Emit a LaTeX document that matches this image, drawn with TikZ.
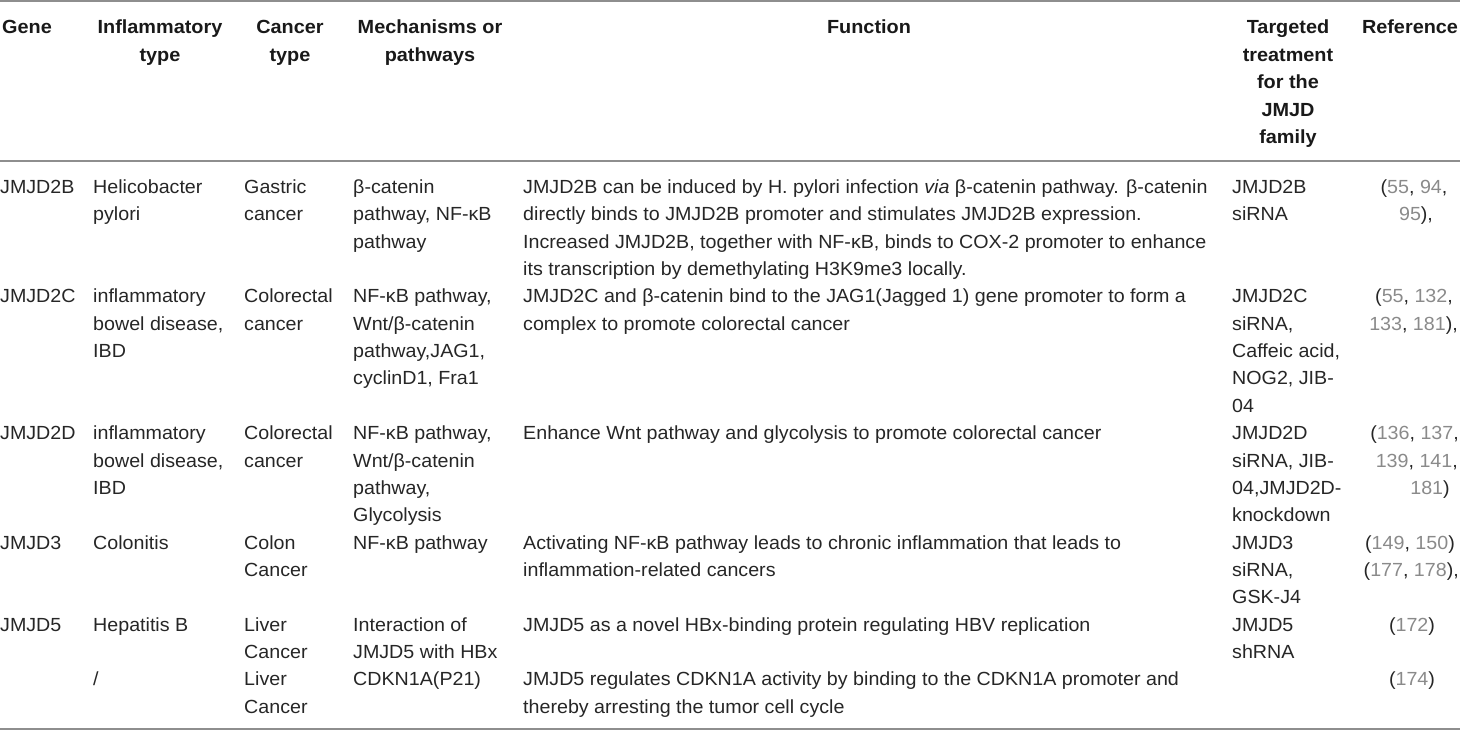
\documentclass[tikz,border=0pt]{standalone}
\usepackage{fontspec}
\setmainfont{Liberation Sans}
\newfontfamily\bodyfont{Liberation Sans}[FakeStretch=1.035]
\newfontfamily\headfont{Liberation Sans}[FakeStretch=1.045]
\usepackage{xcolor}
\definecolor{rulec}{HTML}{8E8E8E}
\definecolor{bodyc}{HTML}{262626}
\definecolor{refc}{HTML}{8A8A8A}
\newcommand\R[1]{\textcolor{refc}{#1}}
\def\basey{193.5}
\def\pitch{27.35}
\def\hbase{34}
\tikzset{
  body/.style={font=\bodyfont\fontsize{19}{22}\selectfont, inner sep=0pt, text=bodyc},
  head/.style={font=\headfont\fontsize{19}{22}\selectfont\bfseries, inner sep=0pt, text=black!90},
  rulel/.style={draw=rulec, line width=2pt},
}
\newcommand\Lcell[4]{%
  \foreach \ln [count=\ii from 0] in {#4}{
    \node[body, anchor=base west] (#1-\ii) at (#2,{\basey+(#3+\ii)*\pitch}) {\ln};
  }}
\newcommand\Hcell[4]{%
  \foreach \ln [count=\ii from 0] in {#4}{
    \node[head, anchor=#3] (#1-\ii) at (#2,{\hbase+\ii*\pitch}) {\ln};
  }}
\begin{document}
\begin{tikzpicture}[x=1pt,y=-1pt]
\useasboundingbox (0,0) rectangle (1460,733);
% rules
\coordinate (t0) at (0,1); \coordinate (t1) at (1460,1);
\coordinate (m0) at (0,161); \coordinate (m1) at (1460,161);
\coordinate (b0) at (0,729); \coordinate (b1) at (1460,729);
\draw[rulel] (t0) -- (t1);
\draw[rulel] (m0) -- (m1);
\draw[rulel] (b0) -- (b1);
% header
\Hcell{hgene}{2}{base west}{Gene}
\Hcell{hinf}{160}{base}{Inflammatory,type}
\Hcell{hcan}{290}{base}{Cancer,type}
\Hcell{hmec}{430}{base}{Mechanisms or,pathways}
\Hcell{hfun}{869}{base}{Function}
\Hcell{htar}{1288}{base}{Targeted,treatment,for the,JMJD,family}
\Hcell{href}{1410}{base}{Reference}
% gene
\Lcell{g1}{0}{0}{JMJD2B}
\Lcell{g2}{0}{4}{JMJD2C}
\Lcell{g3}{0}{9}{JMJD2D}
\Lcell{g4}{0}{13}{JMJD3}
\Lcell{g5}{0}{16}{JMJD5}
% inflammatory type
\Lcell{i1}{93}{0}{Helicobacter,pylori}
\Lcell{i2}{93}{4}{inflammatory,{bowel disease,},IBD}
\Lcell{i3}{93}{9}{inflammatory,{bowel disease,},IBD}
\Lcell{i4}{93}{13}{Colonitis}
\Lcell{i5}{93}{16}{Hepatitis B}
\Lcell{i6}{93}{18}{/}
% cancer type
\Lcell{c1}{244}{0}{Gastric,cancer}
\Lcell{c2}{244}{4}{Colorectal,cancer}
\Lcell{c3}{244}{9}{Colorectal,cancer}
\Lcell{c4}{244}{13}{Colon,Cancer}
\Lcell{c5}{244}{16}{Liver,Cancer}
\Lcell{c6}{244}{18}{Liver,Cancer}
% mechanisms
\Lcell{p1}{353}{0}{β-catenin,{pathway, NF-κB},pathway}
\Lcell{p2}{353}{4}{{NF-κB pathway,},Wnt/β-catenin,{pathway,JAG1,},{cyclinD1, Fra1}}
\Lcell{p3}{353}{9}{{NF-κB pathway,},Wnt/β-catenin,{pathway,},Glycolysis}
\Lcell{p4}{353}{13}{NF-κB pathway}
\Lcell{p5}{353}{16}{Interaction of,JMJD5 with HBx}
\Lcell{p6}{353}{18}{CDKN1A(P21)}
% function
\Lcell{f1}{523}{0}{{JMJD2B can be induced by H. pylori infection \textit{via} β-catenin pathway. β-catenin},{directly binds to JMJD2B promoter and stimulates JMJD2B expression.},{Increased JMJD2B, together with NF-κB, binds to COX-2 promoter to enhance},{its transcription by demethylating H3K9me3 locally.}}
\Lcell{f2}{523}{4}{{JMJD2C and β-catenin bind to the JAG1(Jagged 1) gene promoter to form a},{complex to promote colorectal cancer}}
\Lcell{f3}{523}{9}{{Enhance Wnt pathway and glycolysis to promote colorectal cancer}}
\Lcell{f4}{523}{13}{{Activating NF-κB pathway leads to chronic inflammation that leads to},{inflammation-related cancers}}
\Lcell{f5}{523}{16}{{JMJD5 as a novel HBx-binding protein regulating HBV replication}}
\Lcell{f6}{523}{18}{{JMJD5 regulates CDKN1A activity by binding to the CDKN1A promoter and},{thereby arresting the tumor cell cycle}}
% targeted treatment
\Lcell{t1}{1232}{0}{JMJD2B,siRNA}
\Lcell{t2}{1232}{4}{JMJD2C,{siRNA,},{Caffeic acid,},{NOG2, JIB-},04}
\Lcell{t3}{1232}{9}{JMJD2D,{siRNA, JIB-},{04,JMJD2D-},knockdown}
\Lcell{t4}{1232}{13}{JMJD3,{siRNA,},GSK-J4}
\Lcell{t5}{1232}{16}{JMJD5,shRNA}
% references
\node[body, anchor=base] (r1a) at (1414,{\basey+0*\pitch}) {(\R{55}, \R{94},};
\node[body, anchor=base] (r1b) at (1416,{\basey+1*\pitch}) {\R{95}),};
\node[body, anchor=base] (r2a) at (1414,{\basey+4*\pitch}) {(\R{55}, \R{132},};
\node[body, anchor=base east] (r2b) at (1458,{\basey+5*\pitch}) {\R{133}, \R{181}),};
\node[body, anchor=base east] (r3a) at (1459,{\basey+9*\pitch}) {(\R{136}, \R{137},};
\node[body, anchor=base east] (r3b) at (1458,{\basey+10*\pitch}) {\R{139}, \R{141},};
\node[body, anchor=base] (r3c) at (1430,{\basey+11*\pitch}) {\R{181})};
\node[body, anchor=base east] (r4a) at (1455,{\basey+13*\pitch}) {(\R{149}, \R{150})};
\node[body, anchor=base east] (r4b) at (1459,{\basey+14*\pitch}) {(\R{177}, \R{178}),};
\node[body, anchor=base] (r5a) at (1412,{\basey+16*\pitch}) {(\R{172})};
\node[body, anchor=base] (r6a) at (1412,{\basey+18*\pitch}) {(\R{174})};
\end{tikzpicture}
\end{document}
